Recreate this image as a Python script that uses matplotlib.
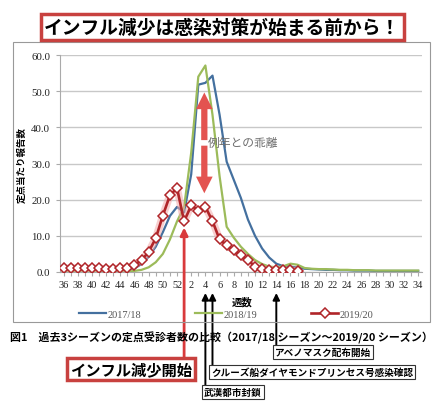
import numpy as np
import matplotlib
matplotlib.use("Agg")
import matplotlib.pyplot as plt
from matplotlib.patches import Rectangle, FancyArrowPatch, ArrowStyle
from matplotlib.lines import Line2D
from matplotlib.transforms import blended_transform_factory

JP = ["Noto Sans CJK JP", "DejaVu Sans"]
SERIF = ["Liberation Serif", "DejaVu Serif"]

# weeks 36..52 of the autumn, then 1..34 of the next year
weeks = list(range(36, 53)) + list(range(1, 35))

s1718 = [0.2, 0.2, 0.2, 0.3, 0.3, 0.3, 0.3, 0.4, 0.5, 0.6,
         1.0, 2.2, 4.2, 7.0, 11.0, 15.5, 18.0,
         16.5, 27.0, 51.8, 52.3, 54.3, 43.5, 30.5, 25.5, 20.5, 14.5,
         10.0, 6.5, 4.0, 2.3, 1.6, 1.5, 1.2, 0.9, 0.8, 0.7, 0.6, 0.6,
         0.5, 0.5, 0.4, 0.4, 0.4, 0.3, 0.3, 0.3, 0.3, 0.3, 0.3, 0.3]
s1819 = [0.1, 0.1, 0.1, 0.1, 0.1, 0.1, 0.1, 0.2, 0.2, 0.2,
         0.3, 0.6, 1.3, 2.7, 5.0, 9.0, 14.0,
         18.0, 33.0, 54.0, 57.1, 43.5, 26.5, 12.5, 9.5, 7.0, 5.0,
         3.3, 2.2, 1.5, 1.3, 1.6, 2.3, 2.0, 1.1, 0.9, 0.8, 0.8, 0.7,
         0.6, 0.6, 0.5, 0.5, 0.5, 0.4, 0.4, 0.4, 0.4, 0.4, 0.4, 0.4]
s1920 = [1.0, 1.1, 1.1, 1.0, 1.0, 1.0, 0.8, 0.9, 1.0, 1.1,
         2.0, 3.2, 5.6, 9.3, 15.6, 21.2, 23.2,
         14.0, 18.4, 17.0, 18.0, 14.1, 9.0, 7.4, 6.1, 4.6, 3.3,
         1.5, 0.8, 0.6, 0.5, 0.5, 0.5, 0.4]
season_labels = ["2017/18", "2018/19", "2019/20"]

title = "インフル減少は感染対策が始まる前から！"
caption = "図1　過去3シーズンの定点受診者数の比較（2017/18 シーズン～2019/20 シーズン）"
drop_week, drop_label = 1, "インフル減少開始"
event_weeks = [4, 5, 14]
event_labels = ["武漢都市封鎖", "クルーズ船ダイヤモンドプリンセス号感染確認", "アベノマスク配布開始"]
gap_week, gap_top, gap_bottom = 4, 50.4, 21.0
gap_label = "例年との乖離"

BLUE, GREEN, RED = "#44709f", "#9cbb5a", "#b02529"
ARROW_RED = "#e35350"

fig = plt.figure(figsize=(4.43, 4.14), dpi=100)
W, H = 443, 414
ax = fig.add_axes([60 / W, 1 - 273 / H, 361.7 / W, 217 / H])

x = np.arange(len(weeks))
ax.plot(x, s1718, color=BLUE, lw=1.6, zorder=3)
ax.plot(x, s1819, color=GREEN, lw=1.6, zorder=3)
xr = x[:len(s1920)]
ax.plot(xr, s1920, color="#f3a9a9", lw=5.5, alpha=0.55, zorder=4, solid_capstyle="round")
ax.plot(xr, s1920, color=RED, lw=1.9, marker="D", ms=5, mfc="white",
        mec=RED, mew=1.1, zorder=5)

ax.set_xlim(-0.5, len(weeks) - 0.5)
ax.set_ylim(0, 60)
ax.set_yticks(np.arange(0, 61, 10))
ax.set_yticklabels([f"{v:.1f}" for v in np.arange(0, 61, 10)], family=SERIF, fontsize=7.8)
ax.set_xticks(x)
ax.set_xticklabels([str(w) if i % 2 == 0 else "" for i, w in enumerate(weeks)],
                   family=SERIF, fontsize=7.4)
ax.tick_params(axis="x", length=3, color="#aaaaaa", pad=3, labelcolor="#222222")
ax.tick_params(axis="y", length=3, color="#aaaaaa", pad=4, labelcolor="#222222")
ax.grid(axis="y", color="#c8c8c8", lw=1)
ax.set_axisbelow(True)
for side in ["top", "right"]:
    ax.spines[side].set_visible(False)
for side in ["left", "bottom"]:
    ax.spines[side].set_color("#aaaaaa")

# gap arrow
gx = weeks.index(gap_week) - 0.15
mid = (gap_top + gap_bottom) / 2
style = ArrowStyle.Simple(head_length=12, head_width=12, tail_width=4.5)
for end in (gap_top, gap_bottom):
    ax.add_patch(FancyArrowPatch((gx, mid), (gx, end), arrowstyle=style,
                                 mutation_scale=1, color=ARROW_RED, lw=0, zorder=6))
ax.text(gx + 0.5, 35.8, gap_label, family=JP, fontsize=8.5, color="#6e6e6e",
        ha="left", va="center", zorder=7)

# outer frame and title
fig.add_artist(Rectangle((13 / W, 1 - 323 / H), 417 / W, 280 / H, transform=fig.transFigure,
                         fill=False, ec="#999999", lw=0.8))
fig.text(222 / W, 1 - 28 / H, title, family=JP, fontsize=13.5, weight="bold",
         ha="center", va="center",
         bbox=dict(boxstyle="square,pad=0.18", fc="white", ec="#c8413f", lw=2.5))

fig.text(22 / W, 1 - 165 / H, "定点当たり報告数", family=JP, fontsize=6.8, weight="bold",
         rotation=90, ha="center", va="center")
fig.text(242 / W, 1 - 302 / H, "週数", family=JP, fontsize=7.5, weight="bold",
         ha="center", va="center")

handles = [Line2D([], [], color=BLUE, lw=1.6),
           Line2D([], [], color=GREEN, lw=1.6),
           Line2D([], [], color=RED, lw=1.9, marker="D", ms=5, mfc="white", mec=RED, mew=1.1)]
fig.legend(handles, season_labels, loc="center", bbox_to_anchor=(226 / W, 1 - 315 / H),
           ncol=3, frameon=False, columnspacing=5.2, handlelength=2.6, handletextpad=0.1,
           prop=dict(family=SERIF, size=7.5), labelcolor="#555555", numpoints=1)

fig.text(221.5 / W, 1 - 338 / H, caption, family=JP, fontsize=7.9, weight="bold",
         ha="center", va="center")

# red "decline start" arrow and box
dx = weeks.index(drop_week)
ax.annotate("", xy=(dx, 12.3), xycoords="data",
            xytext=(dx, 1 - 358 / H), textcoords=("data", "figure fraction"),
            arrowprops=dict(arrowstyle="-|>", color="#d93a3c", lw=2, mutation_scale=11,
                            shrinkA=0, shrinkB=0),
            annotation_clip=False, zorder=8)
fig.text(131 / W, 1 - 370 / H, drop_label, family=JP, fontsize=11, weight="bold",
         ha="center", va="center",
         bbox=dict(boxstyle="square,pad=0.22", fc="white", ec="#c8413f", lw=2.5))

# black event arrows with boxed labels
box_tops = [387, 367, 347]
bt = blended_transform_factory(ax.transData, fig.transFigure)
for wk, lab, top in zip(event_weeks, event_labels, box_tops):
    ex = weeks.index(wk)
    ax.annotate("", xy=(ex, 1 - 294 / H), xycoords=("data", "figure fraction"),
                xytext=(ex, 1 - top / H), textcoords=("data", "figure fraction"),
                arrowprops=dict(arrowstyle="-|>", color="black", lw=1.4, mutation_scale=10,
                                shrinkA=0, shrinkB=0),
                annotation_clip=False)
    fig.text(ex - 0.2, 1 - (top + 6) / H, lab, transform=bt, family=JP, fontsize=6.9,
             weight="bold", ha="left", va="center",
             bbox=dict(boxstyle="square,pad=0.2", fc="white", ec="#333333", lw=0.8))

fig.savefig("out.png", dpi=100)
